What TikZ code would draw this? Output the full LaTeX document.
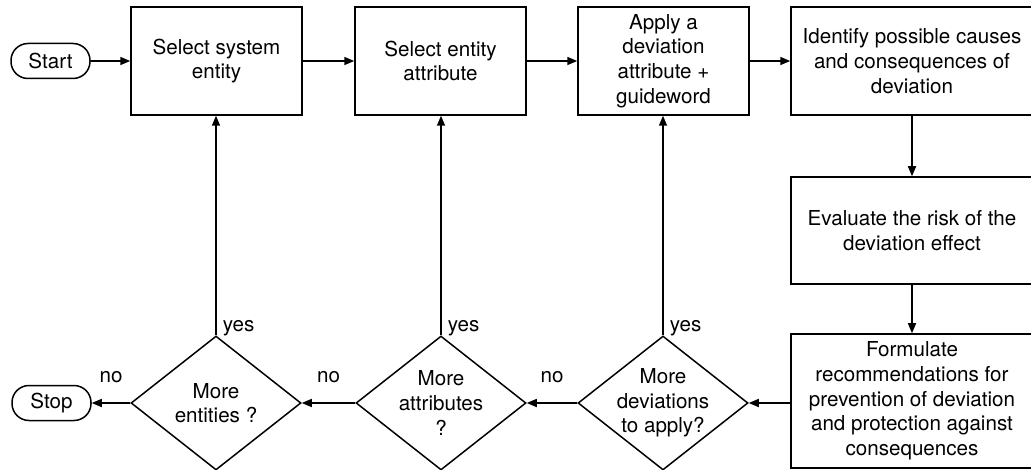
\documentclass[tikz,border=0pt]{standalone}
\usepackage{fontspec}
\setmainfont{TeX Gyre Heros}
\usetikzlibrary{shapes.geometric,arrows.meta}
\begin{document}
\begin{tikzpicture}[x=1pt,y=-1pt,
  font=\fontsize{20.6}{24.7}\selectfont,
  line width=1.5pt,
  box/.style={draw, minimum width=171pt, minimum height=108pt, align=center, inner sep=2pt},
  wbox/.style={draw, minimum width=242pt, align=center, inner sep=2pt},
  term/.style={draw, rounded corners=17pt, minimum width=79pt, minimum height=35pt, inner sep=0pt},
  dia/.style={draw, diamond, minimum width=170pt, minimum height=134pt, inner sep=0pt},
  dtext/.style={align=center, inner sep=0pt},
  arr/.style={-{Triangle[length=10pt,width=8pt]}},
  nolbl/.style={midway, yshift=25.5pt, inner sep=0pt},
  yeslbl/.style={pos=0, anchor=base west, inner sep=0pt, xshift=6pt, yshift=4pt}
]
\clip (0,0) rectangle (1031,470);
% top row
\node[term] (start) at (50.5,61) {Start};
\node[box] (b1) at (216.5,61) {Select system\\entity};
\node[box] (b2) at (440.5,61) {Select entity\\attribute};
\node[box] (b3) at (663.5,61) {Apply a\\deviation\\attribute +\\guideword};
\node[wbox, minimum height=108pt] (b4) at (912,61) {Identify possible causes\\and consequences of\\deviation};
% right column
\node[wbox, minimum height=107pt] (b5) at (912,230.5) {Evaluate the risk of the\\deviation effect};
\node[wbox, minimum height=134pt] (b6) at (912,401) {Formulate\\recommendations for\\prevention of deviation\\and protection against\\consequences};
% decisions
\node[dia] (d1) at (216,403) {};
\node[dtext] (d1t) at (d1) {More\\entities ?};
\node[dia] (d2) at (441,403) {};
\node[dtext] (d2t) at (d2) {More\\attributes\\?};
\node[dia] (d3) at (663,403) {};
\node[dtext] (d3t) at (d3) {More\\deviations\\to apply?};
\node[term] (stop) at (51.5,403) {Stop};
% connectors
\draw[arr] (start.east) -- (b1.west);
\draw[arr] (b1.east) -- (b2.west);
\draw[arr] (b2.east) -- (b3.west);
\draw[arr] (b3.east) -- (b4.west);
\draw[arr] (b4.south) -- (b5.north);
\draw[arr] (b5.south) -- (b6.north);
\draw[arr] (b6.west |- d3.east) -- (d3.east);
\draw[arr] (d3.west) -- node[nolbl] {no} (d2.east);
\draw[arr] (d2.west) -- node[nolbl] {no} (d1.east);
\draw[arr] (d1.west) -- node[nolbl] {no} (stop.east);
\draw[arr] (d1.north) -- node[yeslbl] {yes} (b1.south -| d1.north);
\draw[arr] (d2.north) -- node[yeslbl] {yes} (b2.south -| d2.north);
\draw[arr] (d3.north) -- node[yeslbl] {yes} (b3.south -| d3.north);
\end{tikzpicture}
\end{document}
